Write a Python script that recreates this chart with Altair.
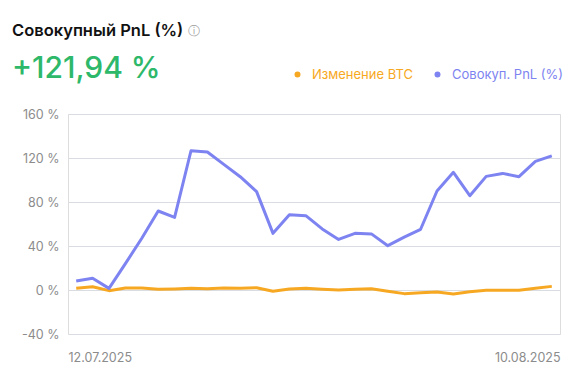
import altair as alt
import pandas as pd

# ---- data ----
dates = list(pd.date_range("2025-07-12", periods=30).strftime("%d.%m.%Y"))
pnl = [8.2, 10.6, 1.5, 24, 47, 71.8, 66, 126.6, 125.5, 114.2, 103, 89.4, 51.5,
       68.5, 67.6, 55.5, 46, 51.5, 51, 40.3, 48, 55.2, 90, 107, 85.7, 103.3,
       106, 103, 117, 121.94]
btc = [1.5, 3, -0.6, 1.8, 1.8, 0.6, 0.9, 1.5, 1.2, 1.8, 1.5, 2.1, -1.2, 0.9,
       1.5, 0.6, 0, 0.6, 1.2, -1.2, -3.3, -2.4, -1.8, -3.6, -1.5, -0.3, -0.3,
       -0.3, 1.5, 3.3]
series_names = ["Изменение BTC", "Совокуп. PnL (%)"]
series_colors = ["#F7A823", "#7D83F0"]
y_ticks = [-40, 0, 40, 80, 120, 160]
title_text = "Совокупный PnL (%)"
headline = "+121,94 %"

rows = []
for i, d in enumerate(dates):
    rows.append({"i": i, "date": d, "series": series_names[0], "value": btc[i]})
    rows.append({"i": i, "date": d, "series": series_names[1], "value": pnl[i]})
df = pd.DataFrame(rows)

FONT = "Inter"

label_color_expr = (
    f"datum.label == '{series_names[0]}' ? '{series_colors[0]}' : '{series_colors[1]}'"
)

lines = alt.Chart(df).mark_line(strokeWidth=3, strokeJoin="round").encode(
    x=alt.X(
        "i:Q",
        scale=alt.Scale(domain=[-0.5, len(dates) - 0.5], nice=False, zero=False),
        axis=alt.Axis(
            title=None,
            values=[-0.5, len(dates) - 0.5],
            labelExpr=f"datum.value < 0 ? '{dates[0]}' : '{dates[-1]}'",
            labelFlush=True,
            grid=False,
            domain=False,
            ticks=False,
            labelPadding=17,
            labelColor="#8C8C8C",
            labelFontSize=12.5,
            labelFont=FONT,
        ),
    ),
    y=alt.Y(
        "value:Q",
        scale=alt.Scale(domain=[-40, 160], nice=False),
        axis=alt.Axis(
            title=None,
            values=y_ticks,
            labelExpr="datum.value + ' %'",
            grid=True,
            gridColor="#D9DCE1",
            gridWidth=1,
            domain=False,
            ticks=False,
            labelPadding=9,
            labelColor="#8C8C8C",
            labelFontSize=12.5,
            labelFont=FONT,
        ),
    ),
    color=alt.Color(
        "series:N",
        scale=alt.Scale(domain=series_names, range=series_colors),
        legend=alt.Legend(
            title=None,
            orient="none",
            direction="horizontal",
            legendX=223,
            legendY=-46,
            symbolType="circle",
            symbolSize=9,
            symbolStrokeWidth=3,
            labelOffset=8,
            columnPadding=17,
            labelFontSize=13,
            labelFont=FONT,
            labelColor=alt.ExprRef(label_color_expr),
            padding=0,
        ),
    ),
    order="series:N",
)

info = alt.Chart(pd.DataFrame({"t": ["ⓘ"]})).mark_text(
    fontSize=12, color="#A0A0A0", font="DejaVu Sans", baseline="middle", align="center"
).encode(text="t:N", x=alt.value(126), y=alt.value(-83))

chart = alt.layer(lines, info).properties(
    width=492,
    height=220,
    autosize=alt.AutoSizeParams(type="none"),
    padding={"left": 60, "top": 106, "right": 13, "bottom": 43},
    title=alt.Title(
        text=title_text,
        subtitle=headline,
        anchor="start",
        frame="group",
        dx=-56,
        dy=59,
        offset=0,
        font=FONT,
        fontSize=16.5,
        fontWeight=600,
        color="#111111",
        subtitleFont=FONT,
        subtitleFontSize=30,
        subtitleFontWeight=500,
        subtitleColor="#2DB86A",
        subtitlePadding=15,
    ),
).configure_view(stroke=None).configure(background="white")

chart.save("out.html", embed_options={"renderer": "svg", "actions": False})
